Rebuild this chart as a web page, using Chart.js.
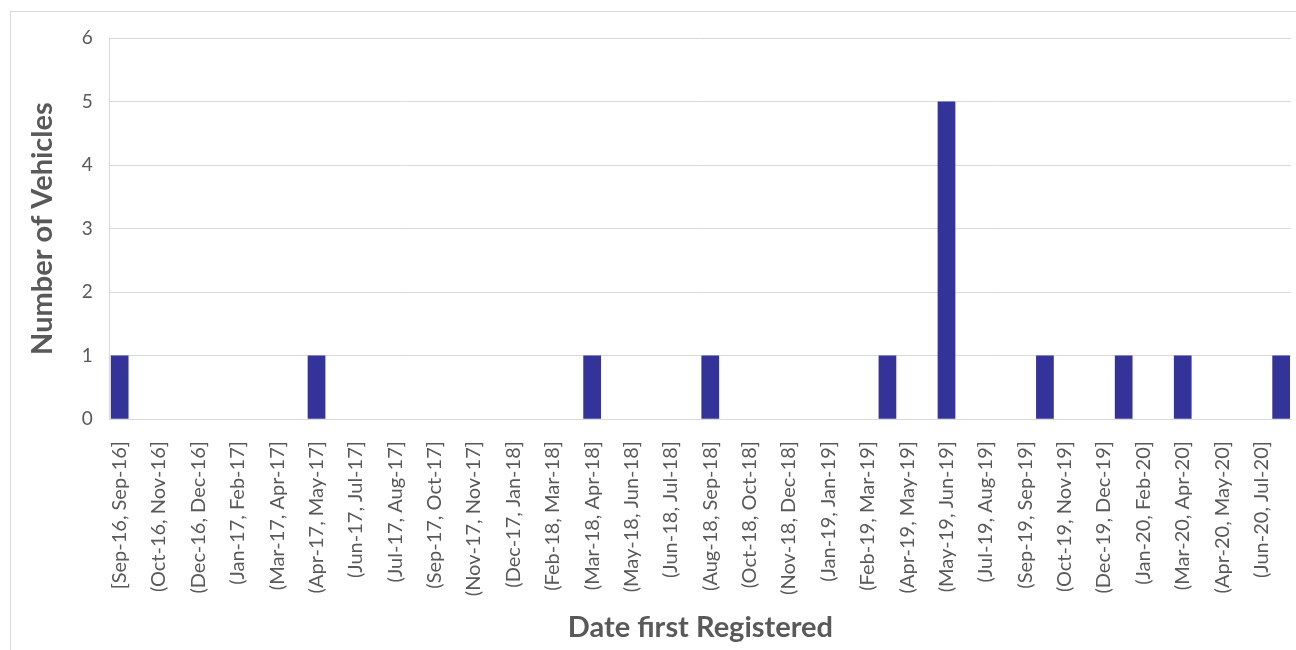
<!DOCTYPE html>
<html>
<head>
<meta charset="utf-8">
<script src="https://cdn.jsdelivr.net/npm/chart.js@4"></script>
<style>
    html, body { margin: 0; padding: 0; background: #ffffff; }
    #wrap { position: relative; width: 1296px; height: 650px; }
</style>
</head>
<body>
<div id="wrap"><canvas id="vehicleChart"></canvas></div>
<script>
// Beschriftungen, die Excel auf der x-Achse zeigt (nur jede zweite Klasse)
const tickLabels = [
    "[Sep-16, Sep-16]", "(Oct-16, Nov-16]", "(Dec-16, Dec-16]", "(Jan-17, Feb-17]",
    "(Mar-17, Apr-17]", "(Apr-17, May-17]", "(Jun-17, Jul-17]", "(Jul-17, Aug-17]",
    "(Sep-17, Oct-17]", "(Nov-17, Nov-17]", "(Dec-17, Jan-18]", "(Feb-18, Mar-18]",
    "(Mar-18, Apr-18]", "(May-18, Jun-18]", "(Jun-18, Jul-18]", "(Aug-18, Sep-18]",
    "(Oct-18, Oct-18]", "(Nov-18, Dec-18]", "(Jan-19, Jan-19]", "(Feb-19, Mar-19]",
    "(Apr-19, May-19]", "(May-19, Jun-19]", "(Jul-19, Aug-19]", "(Sep-19, Sep-19]",
    "(Oct-19, Nov-19]", "(Dec-19, Dec-19]", "(Jan-20, Feb-20]", "(Mar-20, Apr-20]",
    "(Apr-20, May-20]", "(Jun-20, Jul-20]"
];

// 60 Klassen, die Zwischenklassen bleiben ohne Beschriftung
const binLabels = tickLabels.flatMap(l => [l, ""]);

// Anzahl Fahrzeuge pro Klasse
const vehicleCounts = [
    1, 0, 0, 0, 0, 0, 0, 0, 0, 0,
    1, 0, 0, 0, 0, 0, 0, 0, 0, 0,
    0, 0, 0, 0, 1, 0, 0, 0, 0, 0,
    1, 0, 0, 0, 0, 0, 0, 0, 0, 1,
    0, 0, 5, 0, 0, 0, 0, 1, 0, 0,
    0, 1, 0, 0, 1, 0, 0, 0, 0, 1
];

const yTicks = [0, 1, 2, 3, 4, 5, 6];

const textGrey = "#595959";
const lineGrey = "#d9d9d9";
const barBlue = "#333399";
const fontFamily = "Lato, 'Open Sans', sans-serif";

// Rahmen um das ganze Diagramm (wie in Excel)
const chartFrame = {
    id: "chartFrame",
    beforeDraw(chart) {
        const ctx = chart.ctx;
        ctx.save();
        ctx.strokeStyle = lineGrey;
        ctx.lineWidth = 1;
        ctx.strokeRect(10.5, 11.5, 1400, 800);
        ctx.restore();
    }
};

const config = {
    type: "bar",
    data: {
        labels: binLabels,
        datasets: [{
            label: "Number of Vehicles",
            data: vehicleCounts,
            backgroundColor: barBlue,
            borderWidth: 0,
            categoryPercentage: 1.0,
            barPercentage: 0.9
        }]
    },
    options: {
        responsive: true,
        maintainAspectRatio: false,
        animation: false,
        layout: { padding: { top: 38, right: 5, bottom: 3, left: 8 } },
        plugins: {
            legend: { display: false },
            tooltip: { enabled: false }
        },
        scales: {
            x: {
                grid: { display: false },
                border: { color: lineGrey, width: 1 },
                // gedrehte Beschriftungen sollen rechts keinen Platz wegnehmen
                afterFit: scale => { scale.paddingLeft = 0; scale.paddingRight = 0; },
                ticks: {
                    autoSkip: false,
                    maxRotation: 90,
                    minRotation: 90,
                    padding: 14,
                    color: textGrey,
                    font: { family: fontFamily, size: 20 }
                },
                title: {
                    display: true,
                    text: "Date first Registered",
                    color: textGrey,
                    font: { family: fontFamily, size: 29, weight: "bold" },
                    padding: { top: 0, bottom: 2 }
                }
            },
            y: {
                min: yTicks[0],
                max: yTicks[yTicks.length - 1],
                afterBuildTicks: axis => { axis.ticks = yTicks.map(v => ({ value: v })); },
                grid: { color: lineGrey, drawTicks: false },
                border: { color: lineGrey, width: 1 },
                ticks: {
                    padding: 17,
                    color: textGrey,
                    font: { family: fontFamily, size: 19 }
                },
                title: {
                    display: true,
                    text: "Number of Vehicles",
                    color: textGrey,
                    font: { family: fontFamily, size: 29, weight: "bold" },
                    padding: { top: 17, bottom: 5 }
                }
            }
        }
    },
    plugins: [chartFrame]
};

new Chart(document.querySelector("#vehicleChart"), config);
</script>
</body>
</html>
